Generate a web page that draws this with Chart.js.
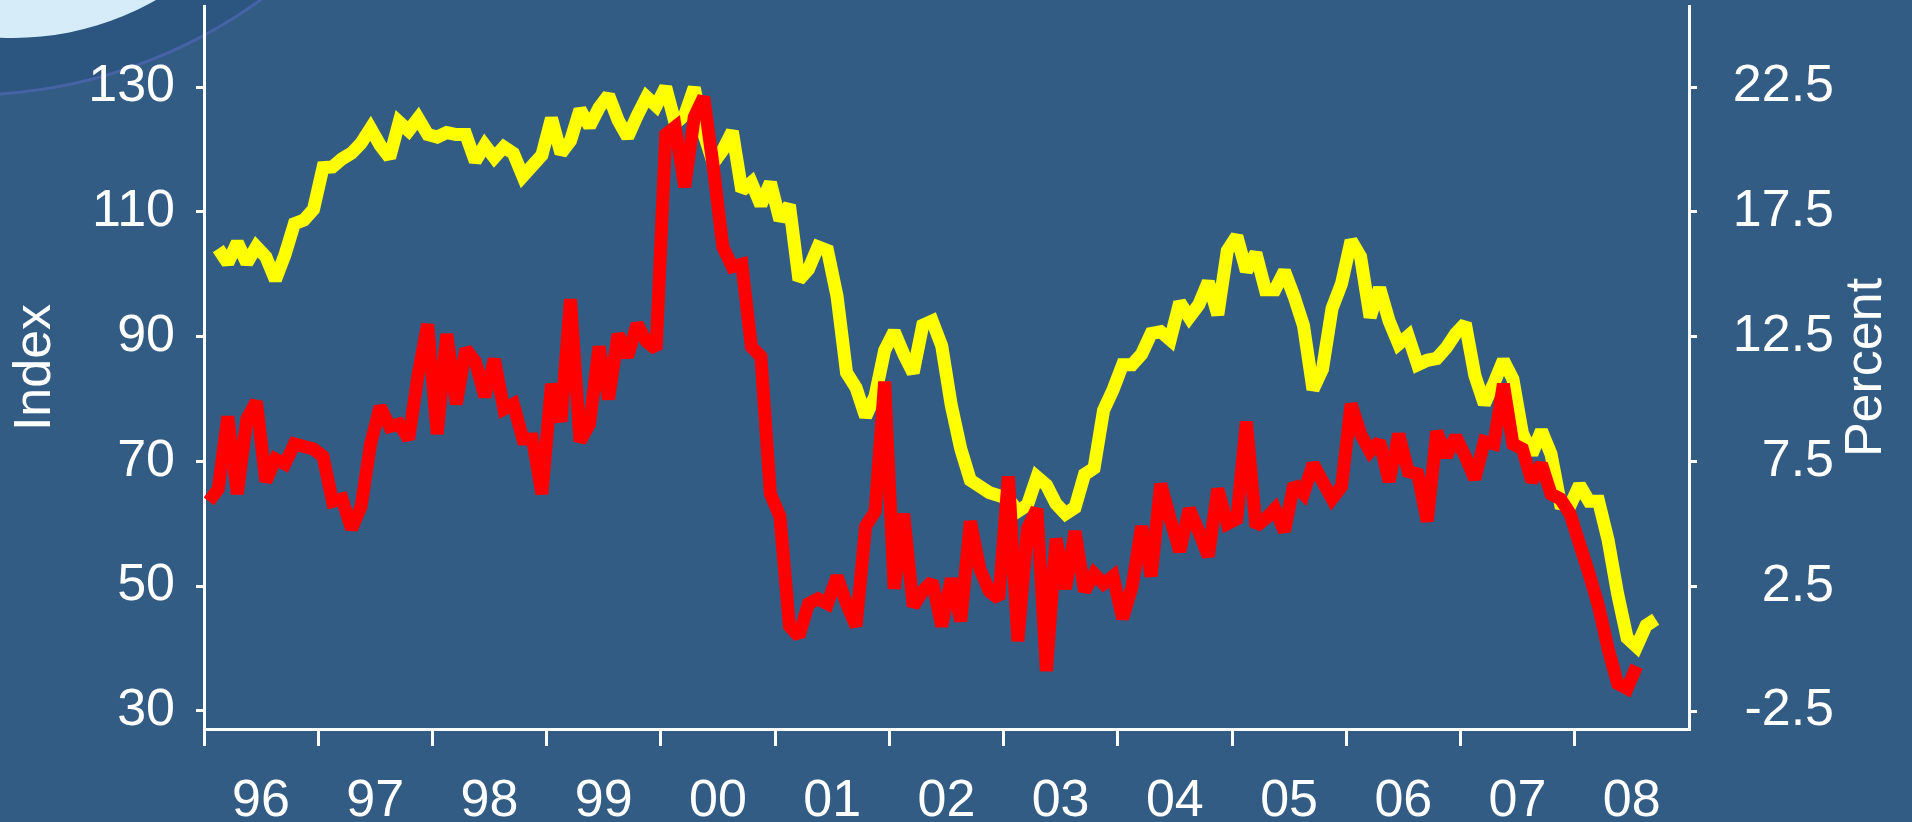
<!DOCTYPE html>
<html>
<head>
<meta charset="utf-8">
<title>Index / Percent 1996-2008</title>
<script src="https://cdn.jsdelivr.net/npm/chart.js@4.4.1/dist/chart.umd.min.js"></script>
<style>
    html, body { margin: 0; padding: 0; background: #335c85; overflow: hidden; }
    canvas { display: block; }
</style>
</head>
<body>
<canvas id="indexChart" width="1912" height="822"></canvas>
<script>
// monthly data, first value = Jan 1996
const yearLabels = ['96', '97', '98', '99', '00', '01', '02', '03', '04', '05', '06', '07', '08'];
const indexTicks = [30, 50, 70, 90, 110, 130];
const percentTicks = [-2.5, 2.5, 7.5, 12.5, 17.5, 22.5];

// yellow line (left axis, Index)
const indexValues = [
    null, 104.1, 101.8, 105.1, 101.8, 104.4, 102.8, 99.1, 103.1, 108.1,
    108.7, 110.4, 117.1, 117.2, 118.5, 119.4, 121.0, 123.4, 120.7, 118.7,
    124.4, 123.0, 125.0, 122.4, 122.0, 122.7, 122.4, 122.4, 118.1, 120.7,
    118.7, 120.4, 119.4, 115.7, 117.4, 119.1, 125.0, 119.4, 121.4, 126.4,
    123.7, 126.7, 128.7, 124.7, 122.0, 125.4, 128.4, 127.0, 130.0, 124.2,
    125.5, 129.9, 122.6, 117.8, 119.9, 122.9, 113.4, 114.7, 111.1, 114.7,
    108.7, 111.1, 99.1, 100.8, 104.4, 103.8, 96.5, 84.2, 81.8, 77.2,
    80.5, 87.8, 90.8, 87.2, 84.2, 91.8, 92.5, 88.5, 79.0, 72.0,
    67.0, 66.0, 65.0, 64.5, 64.0, 62.0, 63.0, 67.5, 66.2, 63.2,
    61.6, 62.6, 67.9, 68.9, 78.2, 81.5, 85.5, 85.5, 87.2, 90.5,
    90.8, 89.5, 95.5, 93.1, 95.1, 98.8, 93.5, 103.8, 106.1, 100.5,
    103.4, 97.5, 97.5, 100.5, 96.5, 91.8, 81.5, 84.8, 94.5, 98.5,
    105.4, 102.8, 93.1, 97.8, 92.5, 88.8, 90.1, 85.5, 86.2, 86.5,
    88.2, 90.5, 92.1, 83.8, 79.2, 82.5, 86.2, 83.2, 74.5, 71.2,
    74.9, 71.2, 63.2, 62.9, 66.2, 63.6, 63.6, 57.4, 48.8, 41.7,
    40.3, 43.7, 44.7
];

// red line (right axis, Percent)
const percentValues = [
    5.9, 6.4, 9.3, 6.2, 9.2, 9.9, 6.7, 7.6, 7.4, 8.2,
    8.1, 8.0, 7.7, 5.9, 6.0, 4.8, 5.7, 8.2, 9.7, 8.9,
    9.0, 8.4, 11.0, 13.0, 8.6, 12.6, 9.8, 12.0, 11.5, 10.1,
    11.6, 9.6, 9.8, 8.4, 8.4, 6.2, 10.6, 9.1, 14.0, 8.3,
    9.0, 12.1, 10.0, 12.6, 11.7, 13.0, 12.3, 12.0, 20.6, 20.9,
    18.5, 21.3, 22.1, 19.3, 16.1, 15.3, 15.4, 12.1, 11.7, 6.2,
    5.3, 0.9, 0.5, 1.8, 2.0, 1.8, 2.9, 1.8, 0.9, 4.9,
    5.5, 10.7, 2.4, 5.4, 1.7, 2.3, 2.7, 0.9, 2.8, 1.1,
    5.1, 3.2, 2.3, 2.0, 6.9, 0.3, 4.8, 5.6, -0.9, 4.4,
    2.4, 4.7, 2.3, 3.0, 2.6, 2.9, 1.2, 2.5, 4.9, 2.9,
    6.6, 5.2, 3.9, 5.6, 4.7, 3.7, 6.4, 5.0, 5.2, 9.1,
    4.9, 5.2, 5.6, 4.7, 6.6, 6.2, 7.4, 6.7, 6.0, 6.5,
    9.8, 8.6, 7.9, 8.3, 6.7, 8.6, 7.1, 7.0, 5.1, 8.7,
    7.7, 8.5, 7.7, 6.8, 8.3, 8.2, 10.6, 8.2, 8.0, 6.7,
    7.4, 6.2, 6.0, 5.4, 4.2, 3.0, 1.7, 0.0, -1.4, -1.6,
    -0.7
];

const fontFamily = '"Liberation Sans", Arial, sans-serif';
const white = '#ffffff';

// points sit in the middle of their month
const monthPoints = values => values.map((v, i) => ({ x: i + 0.5, y: v }));

// slide background with the bubble in the top left corner
const backdrop = {
    id: 'backdrop',
    beforeDraw(chart) {
        const ctx = chart.ctx;
        ctx.save();
        ctx.fillStyle = '#335c85';
        ctx.fillRect(0, 0, chart.width, chart.height);
        ctx.beginPath();
        ctx.arc(-33, -405, 500, 0, Math.PI * 2);
        ctx.fillStyle = '#2c5580';
        ctx.fill();
        ctx.lineWidth = 3;
        ctx.strokeStyle = '#4663a6';
        ctx.stroke();
        ctx.beginPath();
        ctx.arc(13, -250, 288, 0, Math.PI * 2);
        ctx.fillStyle = '#d6edf9';
        ctx.fill();
        ctx.restore();
    },
    beforeDatasetsDraw(chart) {
        // sharp spikes get flat tops like in the original
        chart.ctx.miterLimit = 2;
    }
};

// right axis title reads bottom to top
const percentTitle = {
    id: 'percentTitle',
    afterDraw(chart) {
        const { ctx, chartArea } = chart;
        ctx.save();
        ctx.translate(chart.width - 45, (chartArea.top + chartArea.bottom) / 2);
        ctx.rotate(-Math.PI / 2);
        ctx.font = '52px ' + fontFamily;
        ctx.fillStyle = white;
        ctx.textAlign = 'center';
        ctx.textBaseline = 'middle';
        ctx.fillText('Percent', 0, 0);
        ctx.restore();
    }
};

const tickFont = { size: 52, family: fontFamily };

// fixed axis sizes, no extra room for half labels
const fixWidth = w => scale => {
    scale.width = w;
    scale.paddingTop = 0;
    scale.paddingBottom = 0;
};

const ctxIndex = document.getElementById('indexChart').getContext('2d');
const indexChart = new Chart(ctxIndex, {
    type: 'line',
    data: {
        datasets: [{
            label: 'Percent',
            data: monthPoints(percentValues),
            yAxisID: 'yPercent',
            borderColor: '#ff0000',
            borderWidth: 13
        }, {
            label: 'Index',
            data: monthPoints(indexValues),
            yAxisID: 'yIndex',
            borderColor: '#ffff00',
            borderWidth: 13
        }]
    },
    options: {
        responsive: false,
        animation: false,
        layout: { padding: { top: 6, right: 78, bottom: 0, left: 0 } },
        elements: { point: { radius: 0 }, line: { tension: 0 } },
        plugins: {
            legend: { display: false },
            tooltip: { enabled: false }
        },
        scales: {
            x: {
                type: 'linear',
                position: 'bottom',
                min: 0,
                max: yearLabels.length * 12,
                afterBuildTicks: scale => {
                    scale.ticks = yearLabels.map((_, k) => ({ value: k * 12 }));
                },
                afterFit: scale => {
                    scale.height = 93;
                    scale.paddingLeft = 0;
                    scale.paddingRight = 0;
                },
                grid: { drawOnChartArea: false, color: white, lineWidth: 3, tickLength: 17 },
                border: { color: white, width: 3 },
                ticks: {
                    autoSkip: false,
                    maxRotation: 0,
                    padding: 24,
                    labelOffset: 57,
                    color: white,
                    font: tickFont,
                    callback: value => yearLabels[value / 12]
                }
            },
            yIndex: {
                type: 'linear',
                position: 'left',
                min: 27.1,
                max: 143,
                afterBuildTicks: scale => {
                    scale.ticks = indexTicks.map(v => ({ value: v }));
                },
                afterFit: fixWidth(204),
                grid: { drawOnChartArea: false, color: white, lineWidth: 3, tickLength: 8 },
                border: { color: white, width: 3 },
                ticks: { padding: 21, color: white, font: tickFont, callback: value => String(value) },
                title: {
                    display: true,
                    text: 'Index',
                    color: white,
                    font: tickFont,
                    padding: { top: 4, bottom: 0 }
                }
            },
            yPercent: {
                type: 'linear',
                position: 'right',
                min: -3.22,
                max: 25.75,
                afterBuildTicks: scale => {
                    scale.ticks = percentTicks.map(v => ({ value: v }));
                },
                afterFit: fixWidth(145),
                grid: { drawOnChartArea: false, color: white, lineWidth: 3, tickLength: 8 },
                border: { color: white, width: 3 },
                ticks: { crossAlign: 'far', color: white, font: tickFont, callback: value => value.toFixed(1) }
            }
        }
    },
    plugins: [backdrop, percentTitle]
});
</script>
</body>
</html>
